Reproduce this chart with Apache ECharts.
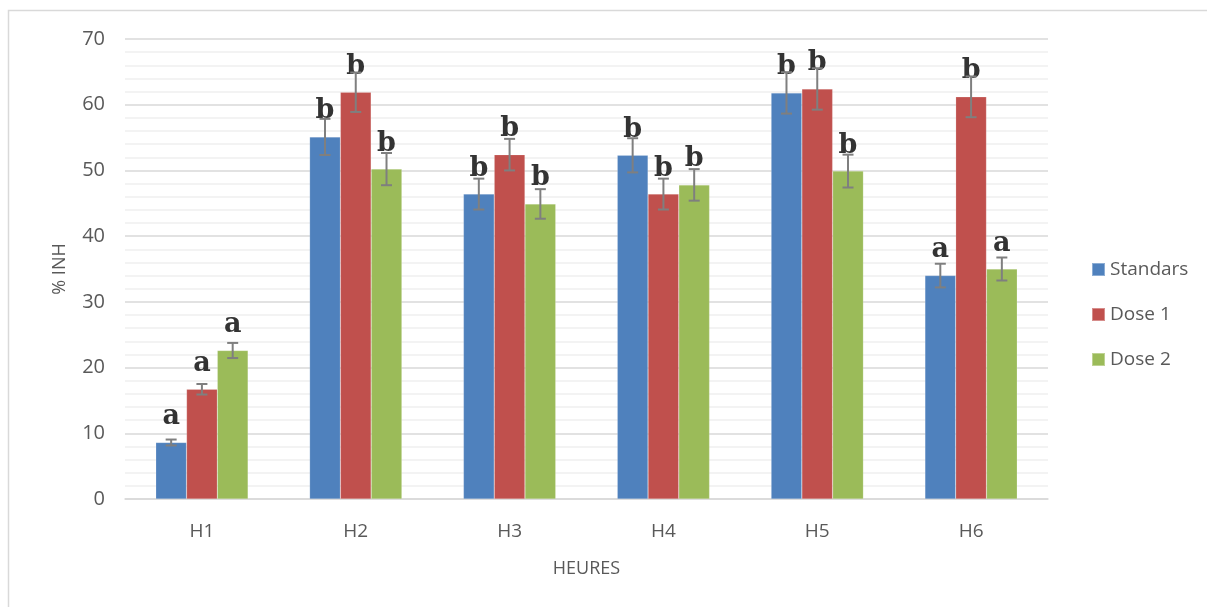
<!DOCTYPE html>
<html>
<head>
<meta charset="utf-8">
<script src="https://cdn.jsdelivr.net/npm/echarts@6/dist/echarts.min.js"></script>
<style>
html,body{margin:0;padding:0;background:#fff;}
#c{width:1207px;height:607px;}
</style>
</head>
<body>
<div id="c"></div>
<script>
var categories = ['H1', 'H2', 'H3', 'H4', 'H5', 'H6'];
var seriesNames = ['Standars', 'Dose 1', 'Dose 2'];
var standars = [8.6, 55.1, 46.4, 52.3, 61.8, 34.0];
var dose1 = [16.7, 61.9, 52.4, 46.4, 62.4, 61.2];
var dose2 = [22.6, 50.2, 44.9, 47.8, 49.9, 35.0];
var standarsErr = [0.45, 2.75, 2.35, 2.6, 3.15, 1.8];
var dose1Err = [0.8, 3.0, 2.4, 2.35, 3.15, 3.1];
var dose2Err = [1.15, 2.45, 2.25, 2.4, 2.5, 1.75];
var standarsLetters = ['a', 'b', 'b', 'b', 'b', 'a'];
var dose1Letters = ['a', 'b', 'b', 'b', 'b', 'b'];
var dose2Letters = ['a', 'b', 'b', 'b', 'b', 'a'];
var yTicks = [0, 10, 20, 30, 40, 50, 60, 70];

var values = [standars, dose1, dose2];
var errs = [standarsErr, dose1Err, dose2Err];
var letters = [standarsLetters, dose1Letters, dose2Letters];
var colors = ['#4f81bd', '#c0504d', '#9bbb59'];

var chart = echarts.init(document.getElementById('c'));

var series = [];
values.forEach(function (vals, si) {
  series.push({
    name: seriesNames[si],
    type: 'bar',
    data: vals,
    barGap: '0%',
    barCategoryGap: '40%',
    itemStyle: { color: colors[si], borderColor: 'rgba(255,255,255,0.35)', borderWidth: 0.5 },
    label: {
      show: true,
      position: 'top',
      distance: 12,
      formatter: function (p) { return letters[si][p.dataIndex]; },
      fontFamily: 'DejaVu Serif',
      fontWeight: 'bold',
      fontSize: 27,
      color: '#333333'
    },
    z: 2
  });
});

values.forEach(function (vals, si) {
  var data = vals.map(function (v, i) { return [i, v - errs[si][i], v + errs[si][i]]; });
  series.push({
    type: 'custom',
    name: 'err' + si,
    data: data,
    z: 5,
    silent: true,
    renderItem: function (params, api) {
      var ci = api.value(0);
      var lo = api.coord([ci, api.value(1)]);
      var hi = api.coord([ci, api.value(2)]);
      var catW = api.size([1, 0])[0];
      var barW = catW * 0.6 / 3;
      var x = lo[0] + (si - 1) * barW;
      var cap = 5.5;
      var st = { stroke: '#7f7f7f', lineWidth: 2 };
      return {
        type: 'group',
        children: [
          { type: 'line', shape: { x1: x, y1: lo[1], x2: x, y2: hi[1] }, style: st },
          { type: 'line', shape: { x1: x - cap, y1: lo[1], x2: x + cap, y2: lo[1] }, style: st },
          { type: 'line', shape: { x1: x - cap, y1: hi[1], x2: x + cap, y2: hi[1] }, style: st }
        ]
      };
    }
  });
});

chart.setOption({
  animation: false,
  backgroundColor: '#ffffff',
  graphic: [{
    type: 'rect',
    shape: { x: 8.5, y: 10.5, width: 1210, height: 610 },
    style: { fill: 'none', stroke: '#d9d9d9', lineWidth: 1.5 },
    silent: true
  }],
  grid: { left: 125, right: 159, top: 39, bottom: 108 },
  legend: {
    orient: 'vertical',
    left: 1086,
    top: 255,
    itemGap: 26,
    itemWidth: 13,
    itemHeight: 13,
    icon: 'rect',
    data: seriesNames,
    textStyle: { fontFamily: 'Open Sans', fontSize: 19, color: '#595959' }
  },
  xAxis: {
    type: 'category',
    data: categories,
    name: 'HEURES',
    nameLocation: 'middle',
    nameGap: 61,
    nameTextStyle: { fontFamily: 'Open Sans', fontSize: 18, color: '#595959' },
    axisLine: { lineStyle: { color: '#d9d9d9', width: 1.5 } },
    axisTick: { show: false },
    axisLabel: { fontFamily: 'Open Sans', fontSize: 19, color: '#595959', margin: 23 }
  },
  yAxis: {
    type: 'value',
    min: yTicks[0],
    max: yTicks[yTicks.length - 1],
    interval: 10,
    name: '% INH',
    nameLocation: 'middle',
    nameGap: 56,
    nameRotate: 90,
    nameTextStyle: { fontFamily: 'Open Sans', fontSize: 18, color: '#595959' },
    axisLine: { show: false },
    axisTick: { show: false },
    axisLabel: { fontFamily: 'Open Sans', fontSize: 20, color: '#595959', margin: 20 },
    splitLine: { lineStyle: { color: '#d9d9d9', width: 1.5 } },
    minorTick: { show: false, splitNumber: 5 },
    minorSplitLine: { show: true, lineStyle: { color: '#efefef', width: 1.5 } }
  },
  series: series
});
</script>
</body>
</html>
